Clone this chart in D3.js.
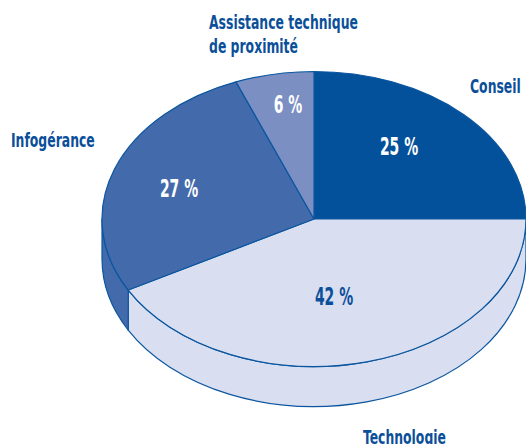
<!DOCTYPE html>
<html>
<head>
<meta charset="utf-8">
<script src="https://cdn.jsdelivr.net/npm/d3@7"></script>
<style>
  body { margin: 0; background: #fff; }
  svg { display: block; }
  text { font-family: "DejaVu Sans Condensed", "DejaVu Sans", sans-serif; font-weight: bold; }
</style>
</head>
<body>
<svg width="526" height="444"></svg>
<script>
// slices, clockwise from 12 o'clock
const categories = ["Conseil", "Technologie", "Infogérance", "Assistance technique\nde proximité"];
const values = [25, 42, 27, 6];
const colors = ["#04519b", "#d9dff0", "#436bab", "#7b8fc3"];
const valueColors = ["#fff", "#0b4f9a", "#fff", "#fff"];

const W = 526, H = 444;
const cx = 314, cy = 219, rx = 212, ry = 147.5, depth = 40;
const lineColor = "#0b56a0";

const svg = d3.select("svg");

const pie = d3.pie().sort(null).value(d => d)(values);

function pt(a, dy) {
  return [cx + rx * Math.sin(a), cy - ry * Math.cos(a) + (dy || 0)];
}

// side walls (front half only)
const sides = svg.append("g");
pie.forEach((p, i) => {
  const a0 = Math.max(p.startAngle, Math.PI / 2);
  const a1 = Math.min(p.endAngle, 3 * Math.PI / 2);
  if (a0 >= a1) return;
  const t0 = pt(a0), t1 = pt(a1), b0 = pt(a0, depth), b1 = pt(a1, depth);
  const d = `M${t0}A${rx},${ry} 0 0 1 ${t1}L${b1}A${rx},${ry} 0 0 0 ${b0}Z`;
  sides.append("path")
    .attr("d", d)
    .attr("fill", colors[i])
    .attr("stroke", lineColor)
    .attr("stroke-width", 1.2)
    .attr("stroke-linejoin", "round");
});

// top face: circular pie squashed to an ellipse
const arc = d3.arc().innerRadius(0).outerRadius(rx);
svg.append("g")
  .attr("transform", `translate(${cx},${cy}) scale(1,${ry / rx})`)
  .selectAll("path")
  .data(pie)
  .join("path")
  .attr("d", arc)
  .attr("fill", (d, i) => colors[i])
  .attr("stroke", lineColor)
  .attr("stroke-width", 1.2)
  .attr("vector-effect", "non-scaling-stroke")
  .attr("stroke-linejoin", "round");

// value labels
const valuePos = [[399, 155], [334, 305], [179, 197], [288, 113]];
svg.append("g").selectAll("text")
  .data(pie)
  .join("text")
  .attr("transform", (d, i) => `translate(${valuePos[i]}) scale(0.62,1)`)
  .attr("text-anchor", "middle")
  .attr("font-size", 25)
  .attr("fill", (d, i) => valueColors[i])
  .text(d => d.data + " %");

// category labels
const labelPos = [[470, 93], [363, 444], [11, 147], [209, 29]];
svg.append("g").selectAll("text")
  .data(categories)
  .join("text")
  .attr("transform", (d, i) => `translate(${labelPos[i]}) scale(0.69,1)`)
  .attr("font-size", 20)
  .attr("fill", "#0b4f9a")
  .each(function (d) {
    d3.select(this).selectAll("tspan")
      .data(d.split("\n"))
      .join("tspan")
      .attr("x", 0)
      .attr("dy", (t, j) => j ? 24 : 0)
      .text(t => t);
  });
</script>
</body>
</html>
